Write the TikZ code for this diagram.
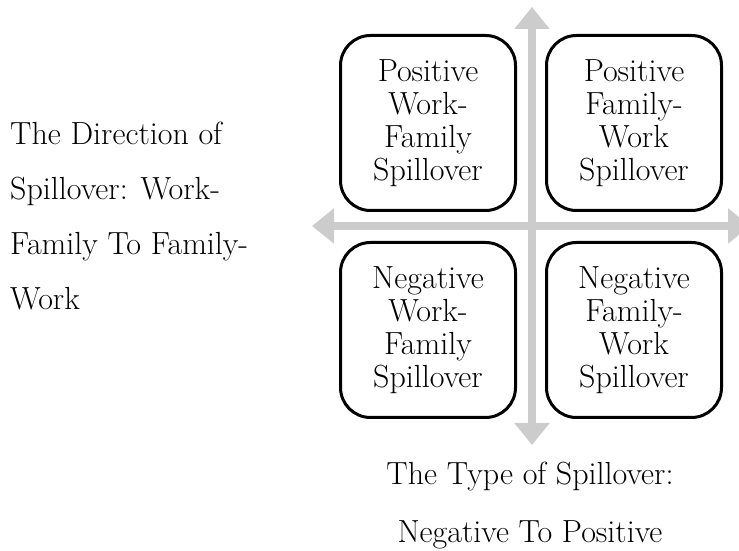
\documentclass[tikz,border=0pt]{standalone}
\usepackage{fontspec}
\setmainfont{Latin Modern Roman}
\usetikzlibrary{positioning,arrows.meta}

\begin{document}
\begin{tikzpicture}[x=1pt,y=1pt]
\tikzset{quad/.style={draw,line width=3pt,rounded corners=30pt,minimum width=175pt,minimum height=175pt,inner sep=0pt,align=center,font=\fontsize{32}{33}\selectfont},
axis/.style={draw=black!20,line width=8pt,{Triangle[length=22pt,width=34pt]}-{Triangle[length=22pt,width=34pt]}}}
\useasboundingbox (0,0) rectangle (739,551);

% the two axes
\coordinate (o) at (532,325);
\coordinate (top) at (532,544);
\coordinate (bot) at (532,106);
\coordinate (lft) at (312,325);
\coordinate (rgt) at (750,325);
\draw[axis] (bot) -- (top);
\draw[axis] (lft) -- (rgt);

% the four kinds of spillover
\node[quad,above left=14pt and 15pt of o] (pwf) {Positive\\Work-\\Family\\Spillover};
\node[quad,above right=14pt and 13pt of o] (pfw) {Positive\\Family-\\Work\\Spillover};
\node[quad,below left=15pt and 15pt of o] (nwf) {Negative\\Work-\\Family\\Spillover};
\node[quad,below right=15pt and 13pt of o] (nfw) {Negative\\Family-\\Work\\Spillover};

% axis labels (base is the last line here)
\node[anchor=base west,align=left,inner sep=0pt,font=\fontsize{32}{55}\selectfont] (dir) at (10,241) {The Direction of\\Spillover: Work-\\Family To Family-\\Work};
\node[anchor=base,align=center,inner sep=0pt,font=\fontsize{32}{58}\selectfont] (type) at (530,8) {The Type of Spillover:\\Negative To Positive};
\end{tikzpicture}
\end{document}
